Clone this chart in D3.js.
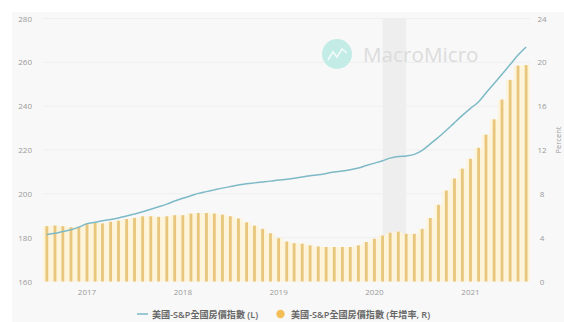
<!DOCTYPE html>
<html>
<head>
<meta charset="utf-8">
<script src="https://cdn.jsdelivr.net/npm/d3@7"></script>
<style>
html,body{margin:0;padding:0;background:#fff}
svg{display:block}
text{font-family:"Open Sans","Noto Sans CJK TC",sans-serif}
</style>
</head>
<body>
<div id="chart"></div>
<script>
// Monthly observations, August 2016 to August 2021
const startMonth = [2016, 7];
const indexValues = [
  181.4,182.0,182.8,183.6,184.8,
  186.4,187.0,187.7,188.3,189.0,189.9,190.8,191.8,193.0,194.1,195.3,196.7,
  198.0,199.1,200.2,201.0,201.8,202.6,203.3,204.0,204.6,205.0,205.4,205.8,
  206.3,206.6,207.1,207.7,208.3,208.7,209.3,210.0,210.4,211.0,211.8,212.9,
  214.0,215.1,216.3,217.0,217.3,218.0,219.8,222.8,225.8,229.0,232.5,235.8,
  239.0,242.0,246.0,250.3,254.6,259.0,263.3,267.0
];
const growthValues = [
  5.05,5.1,5.05,4.95,5.0,
  5.3,5.35,5.3,5.45,5.55,5.7,5.8,5.95,5.95,5.9,5.95,6.05,
  6.05,6.2,6.25,6.25,6.2,6.1,5.95,5.75,5.4,5.1,4.8,4.4,
  3.95,3.65,3.5,3.45,3.3,3.2,3.15,3.15,3.15,3.15,3.3,3.6,
  3.9,4.2,4.45,4.55,4.35,4.35,4.8,5.8,7.0,8.3,9.4,10.3,
  11.2,12.2,13.4,14.8,16.6,18.4,19.7,19.75
];
const leftTicks = [160,180,200,220,240,260,280];
const rightTicks = [0,4,8,12,16,20,24];
const yearTicks = [2017,2018,2019,2020,2021];
const recession = [new Date(2020,1,1), new Date(2020,4,1)];
const legendLine = "美國-S&P全國房價指數 (L)";
const legendBars = "美國-S&P全國房價指數 (年增率, R)";
const brand = "MacroMicro";
const rightTitle = "Percent";

const W = 564, H = 322;
const months = indexValues.map((_, i) => new Date(startMonth[0], startMonth[1] + i, 1));

const svg = d3.select("#chart").append("svg").attr("width", W).attr("height", H);

// Panel behind the plot
svg.append("rect").attr("x", 12).attr("y", 12).attr("width", W - 12).attr("height", H - 12).attr("fill", "#f8f8f8");

const x = d3.scaleTime().domain([new Date(2017,0,1), new Date(2021,0,1)]).range([87, 470.5]);
const yL = d3.scaleLinear().domain([160,280]).range([281.5,18.5]);
const yR = d3.scaleLinear().domain([0,24]).range([281.5,18.5]);

// Recession band
svg.append("rect")
  .attr("x", x(recession[0])).attr("y", 18.5)
  .attr("width", x(recession[1]) - x(recession[0]) ).attr("height", 263)
  .attr("fill", "#eeeeee");

// Horizontal grid
svg.append("g").selectAll("line").data(leftTicks.slice(1)).join("line")
  .attr("x1", 43).attr("x2", 530)
  .attr("y1", d => yL(d)).attr("y2", d => yL(d))
  .attr("stroke", "#efefef").attr("stroke-width", 1);

// Watermark
const mark = svg.append("g");
mark.append("circle").attr("cx", 337).attr("cy", 54).attr("r", 15).attr("fill", "#c2ece5");
mark.append("path")
  .attr("d", d3.line()([[328,60],[333,52],[337,57],[342,49],[347,53]]))
  .attr("fill", "none").attr("stroke", "#f2fbf9").attr("stroke-width", 1.6);
mark.append("text").attr("x", 363).attr("y", 62).attr("font-size", 20.7)
  .attr("fill", "#dcdcdc").text(brand);

// Bars: soft pale band with a stronger core
const bars = svg.append("g");
bars.selectAll("rect.halo").data(growthValues).join("rect").attr("class", "halo")
  .attr("x", (d, i) => x(months[i]) - 4).attr("width", 8)
  .attr("y", d => yR(d)).attr("height", d => yR(0) - yR(d))
  .attr("fill", "#fdf4d9");
bars.selectAll("rect.core").data(growthValues).join("rect").attr("class", "core")
  .attr("x", (d, i) => x(months[i]) - 1.4).attr("width", 2.8)
  .attr("y", d => yR(d)).attr("height", d => yR(0) - yR(d))
  .attr("fill", "#e8c67d");

// Index line
const line = d3.line().x((d, i) => x(months[i])).y(d => yL(d)).curve(d3.curveMonotoneX);
svg.append("path").datum(indexValues).attr("d", line)
  .attr("fill", "none").attr("stroke", "#7db9c6").attr("stroke-width", 1.5);

// Axis labels
const tickStyle = s => s.attr("font-size", 8).attr("fill", "#9a9a9a");
svg.append("g").selectAll("text").data(leftTicks).join("text")
  .attr("x", 32).attr("y", d => yL(d) + 3).attr("text-anchor", "end").text(d => d).call(tickStyle);
svg.append("g").selectAll("text").data(rightTicks).join("text")
  .attr("x", 542).attr("y", d => yR(d) + 3).attr("text-anchor", "middle").text(d => d).call(tickStyle);
svg.append("g").selectAll("text").data(yearTicks).join("text")
  .attr("x", d => x(new Date(d,0,1))).attr("y", 295).attr("text-anchor", "middle").text(d => d).call(tickStyle);
svg.append("text").attr("transform", "translate(561,140) rotate(-90)")
  .attr("text-anchor", "middle").text(rightTitle).attr("font-size", 7.5).attr("fill", "#9a9a9a");

// Legend
svg.append("line").attr("x1", 137).attr("x2", 148).attr("y1", 314).attr("y2", 314)
  .attr("stroke", "#7db9c6").attr("stroke-width", 1.5);
svg.append("text").attr("x", 152).attr("y", 317.5).attr("font-size", 9.1).attr("font-weight", 600).attr("fill", "#666").text(legendLine);
svg.append("circle").attr("cx", 280.5).attr("cy", 314).attr("r", 4.2).attr("fill", "#f3bd57");
svg.append("text").attr("x", 291).attr("y", 317.5).attr("font-size", 9.1).attr("font-weight", 600).attr("fill", "#666").text(legendBars);
</script>
</body>
</html>
